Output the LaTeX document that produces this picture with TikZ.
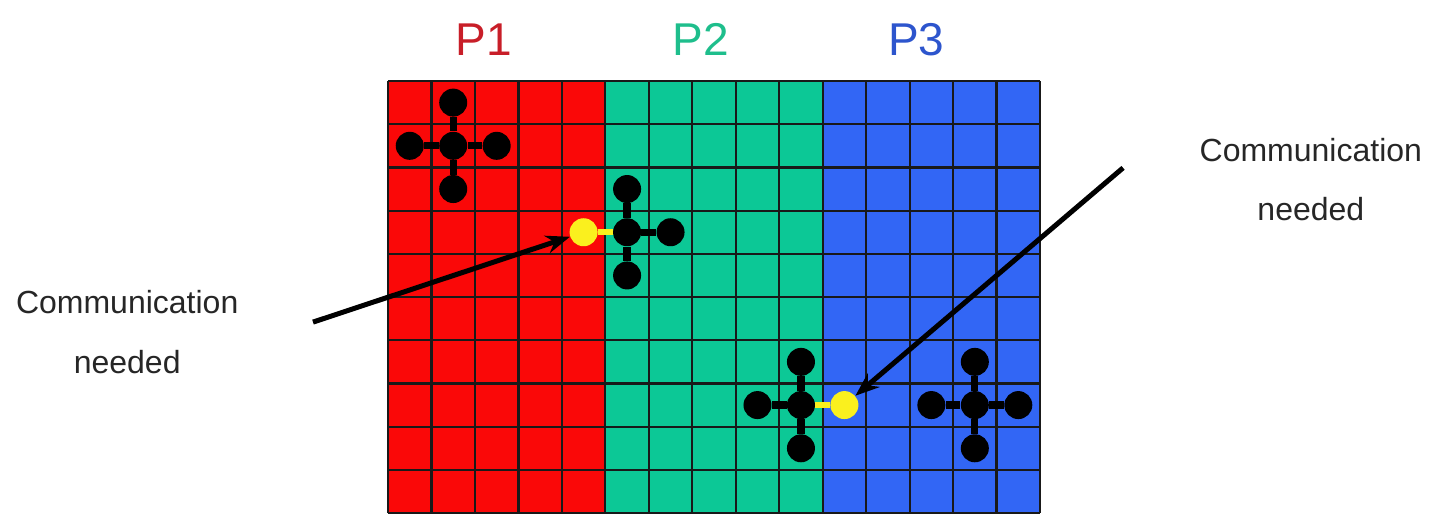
\documentclass[tikz,border=0pt]{standalone}
\usepackage{fontspec}
\setsansfont{Liberation Sans}
\usetikzlibrary{arrows.meta}

\definecolor{redfill}{RGB}{250,8,8}
\definecolor{tealfill}{RGB}{12,200,150}
\definecolor{bluefill}{RGB}{50,102,245}
\definecolor{redtext}{RGB}{200,30,40}
\definecolor{tealtext}{RGB}{30,190,140}
\definecolor{bluetext}{RGB}{45,85,205}
\definecolor{gridcol}{RGB}{25,25,25}
\definecolor{dotyellow}{RGB}{250,240,30}

\begin{document}
\begin{tikzpicture}[x=21.73pt, y=21.6pt, font=\sffamily]
\tikzstyle{pt}=[circle, fill=black, inner sep=0pt, minimum size=14pt]
\tikzstyle{ghost}=[pt, fill=dotyellow]
\tikzstyle{arm}=[line width=3.6pt, black]
\tikzstyle{halo}=[line width=2.8pt, dotyellow]
\tikzstyle{gridline}=[line width=1.1pt, gridcol]
\tikzstyle{msg}=[line width=2.5pt, -{Stealth[length=12pt, width=9pt]}]
\tikzstyle{note}=[align=center, text=black!85, font=\sffamily\fontsize{16}{29.5}\selectfont]
\tikzstyle{plabel}=[anchor=base, font=\sffamily\fontsize{23}{27}\selectfont]
\useasboundingbox (-8.926,0) rectangle (23.994,11.875);
% processor blocks
\fill[redfill] (0,0) rectangle (5,10);
\fill[tealfill] (5,0) rectangle (10,10);
\fill[bluefill] (10,0) rectangle (15,10);
\foreach \i in {0,...,15} \draw[gridline] (\i,0) -- (\i,10);
\foreach \j in {0,...,10} \draw[gridline] (0,\j) -- (15,\j);
\node[plabel, text=redtext] (p1) at (2.2,10.6) {P1};
\node[plabel, text=tealtext] (p2) at (7.2,10.6) {P2};
\node[plabel, text=bluetext] (p3) at (12.15,10.6) {P3};
% stencils
\node[pt] (a) at (1.5,8.5) {}; \node[pt] (an) at (1.5,9.5) {}; \node[pt] (as) at (1.5,7.5) {}; \node[pt] (aw) at (0.5,8.5) {}; \node[pt] (ae) at (2.5,8.5) {};
\node[pt] (b) at (5.5,6.5) {}; \node[pt] (bn) at (5.5,7.5) {}; \node[pt] (bs) at (5.5,5.5) {}; \node[ghost] (bw) at (4.5,6.5) {}; \node[pt] (be) at (6.5,6.5) {};
\node[pt] (c) at (9.5,2.5) {}; \node[pt] (cn) at (9.5,3.5) {}; \node[pt] (cs) at (9.5,1.5) {}; \node[pt] (cw) at (8.5,2.5) {}; \node[ghost] (ce) at (10.5,2.5) {};
\node[pt] (d) at (13.5,2.5) {}; \node[pt] (dn) at (13.5,3.5) {}; \node[pt] (ds) at (13.5,1.5) {}; \node[pt] (dw) at (12.5,2.5) {}; \node[pt] (de) at (14.5,2.5) {};
\draw[arm] (a) -- (an); \draw[arm] (a) -- (as); \draw[arm] (a) -- (aw); \draw[arm] (a) -- (ae);
\draw[arm] (b) -- (bn); \draw[arm] (b) -- (bs); \draw[halo] (b) -- (bw); \draw[arm] (b) -- (be);
\draw[arm] (c) -- (cn); \draw[arm] (c) -- (cs); \draw[arm] (c) -- (cw); \draw[halo] (c) -- (ce);
\draw[arm] (d) -- (dn); \draw[arm] (d) -- (ds); \draw[arm] (d) -- (dw); \draw[arm] (d) -- (de);
% notes
\node[note] (left) at (-6.0,4.19) {Communication\\needed};
\node[note] (right) at (21.23,7.71) {Communication\\needed};
\coordinate (src1) at (-1.725,4.42);
\coordinate (src2) at (16.91,7.99);
\draw[msg] (src1) -- (bw);
\draw[msg] (src2) -- (ce);
\end{tikzpicture}
\end{document}
